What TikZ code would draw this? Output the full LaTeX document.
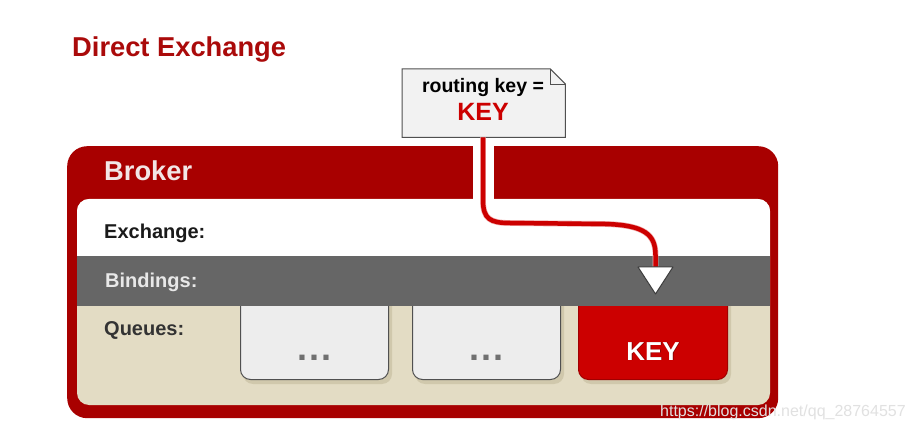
\documentclass[tikz,border=0pt]{standalone}
\usepackage{fontspec}
\setmainfont{Liberation Sans}
\definecolor{titlered}{RGB}{170,10,10}
\definecolor{brokerred}{RGB}{168,0,0}
\definecolor{brokertext}{RGB}{242,230,230}
\definecolor{beige}{RGB}{227,220,196}
\definecolor{beigeshadow}{RGB}{208,200,172}
\definecolor{bandgray}{RGB}{102,102,102}
\definecolor{boxgray}{RGB}{237,237,237}
\definecolor{boxborder}{RGB}{80,80,80}
\definecolor{keyred}{RGB}{204,0,0}
\definecolor{keyborder}{RGB}{160,0,0}
\definecolor{keyshadow}{RGB}{120,0,0}
\definecolor{linered}{RGB}{204,0,0}
\definecolor{lineedge}{RGB}{240,170,170}
\definecolor{notefill}{RGB}{242,242,242}
\definecolor{dotgray}{RGB}{112,112,112}
\definecolor{exchtext}{RGB}{26,26,26}
\definecolor{bindtext}{RGB}{232,232,232}
\definecolor{queuetext}{RGB}{51,51,51}
\definecolor{tridraw}{RGB}{60,60,60}
\definecolor{wmark}{RGB}{225,225,225}
\begin{document}
\begin{tikzpicture}[x=1pt,y=-1pt,
  lbl/.style={inner sep=0pt, anchor=base west, font=\bfseries\fontsize{20}{20}\selectfont},
  qbox/.style={draw=boxborder, line width=1pt, fill=boxgray, rounded corners=10pt,
    minimum width=148pt, minimum height=100pt, anchor=south west, inner sep=0pt},
  kbox/.style={qbox, draw=keyborder, fill=keyred},
  qshadow/.style={fill=beigeshadow, rounded corners=10pt},
  dotstext/.style={inner sep=0pt, anchor=base, text=dotgray, font=\bfseries\fontsize{36}{36}\selectfont},
]
\useasboundingbox (0,0) rectangle (913,430);
\fill[white] (0,0) rectangle (913,430);

% title
\node[inner sep=0pt, anchor=base west, text=titlered, font=\bfseries\fontsize{27.3}{27}\selectfont] (title) at (72,57) {Direct Exchange};

% broker frame
\node[fill=brokerred, rounded corners=20pt, minimum width=711pt, minimum height=272pt, inner sep=0pt, anchor=north west] (broker) at (67,146) {};
\node[inner sep=0pt, anchor=base west, text=brokertext, font=\bfseries\fontsize{27.3}{27}\selectfont] (brokerlbl) at (104,181) {Broker};

% inner area
\fill[beige, rounded corners=12pt] (77,199) rectangle (770,405);
\begin{scope}
  \clip[rounded corners=12pt] (77,199) rectangle (770,405);
  \fill[white] (77,199) rectangle (770,256);
  % queues
  \fill[qshadow] (243,284) rectangle (392,384);
  \fill[qshadow] (415,284) rectangle (564,384);
  \fill[qshadow] (581,284) rectangle (731,384);
  \node[qbox] (q1) at (240,380) {};
  \node[qbox] (q2) at (412,380) {};
  \node[kbox, minimum width=149pt] (q3) at (578,380) {};
  \fill[bandgray] (77,256) rectangle (770,306);
\end{scope}

\node[lbl, text=exchtext] (exch) at (104,239) {Exchange:};
\node[lbl, text=bindtext] (bind) at (105,288) {Bindings:};
\node[lbl, text=queuetext] (queues) at (104,336) {Queues:};

\node[dotstext] (d1) at (q1.center |- 0,360) {.\kern2.5pt.\kern2.5pt.};
\node[dotstext] (d2) at (q2.center |- 0,360) {.\kern2.5pt.\kern2.5pt.};
\node[inner sep=0pt, anchor=base, text=keyshadow, font=\bfseries\fontsize{26}{26}\selectfont] (k3s) at ([xshift=0.8pt,yshift=-0.8pt]q3.center |- 0,360) {KEY};
\node[inner sep=0pt, anchor=base, text=white, font=\bfseries\fontsize{26}{26}\selectfont] (k3) at (q3.center |- 0,360) {KEY};

% routing key note
\node[minimum width=163pt, minimum height=68pt, inner sep=0pt, anchor=north west] (note) at (402,69) {};
\draw[fill=notefill, draw=boxborder, line width=1pt]
  (note.north west) -- ([xshift=-15pt]note.north east) -- ([yshift=-15pt]note.north east)
  -- (note.south east) -- (note.south west) -- cycle;
\draw[draw=boxborder, line width=0.8pt]
  ([xshift=-15pt]note.north east) -- ([xshift=-15pt,yshift=-15pt]note.north east) -- ([yshift=-15pt]note.north east);
\node[inner sep=0pt, anchor=base, font=\bfseries\fontsize{19.5}{20}\selectfont] (rk) at (483,93) {routing key =};
\node[inner sep=0pt, anchor=base, text=linered, font=\bfseries\fontsize{25}{25}\selectfont] (rkey) at (483,121) {KEY};

% routing line
\coordinate (lx) at (483,199);
\coordinate (tri) at (655.5,267);
\fill[white] (472.5,146) rectangle (493.5,199);
\draw[line width=5.8pt, draw=lineedge]
  (note.south -| lx) -- (483,200) .. controls (483,219) and (490,223) .. (510,223)
  -- (605,224) .. controls (645,225) and (655.5,235) .. (655.5,255) -- (tri);
\draw[line width=4.5pt, draw=linered]
  (note.south -| lx) -- (483,200) .. controls (483,219) and (490,223) .. (510,223)
  -- (605,224) .. controls (645,225) and (655.5,235) .. (655.5,255) -- (tri);
\draw[fill=white, draw=tridraw, line width=1pt, line join=round]
  ([xshift=-17.5pt]tri) -- ([xshift=17.5pt]tri) -- ([yshift=-27pt]tri) -- cycle;

% watermark
\node[inner sep=0pt, anchor=base west, text=wmark, font=\fontsize{16}{16}\selectfont] (wm) at (660,416) {https://blog.csdn.net/qq\_28764557};
\end{tikzpicture}
\end{document}
